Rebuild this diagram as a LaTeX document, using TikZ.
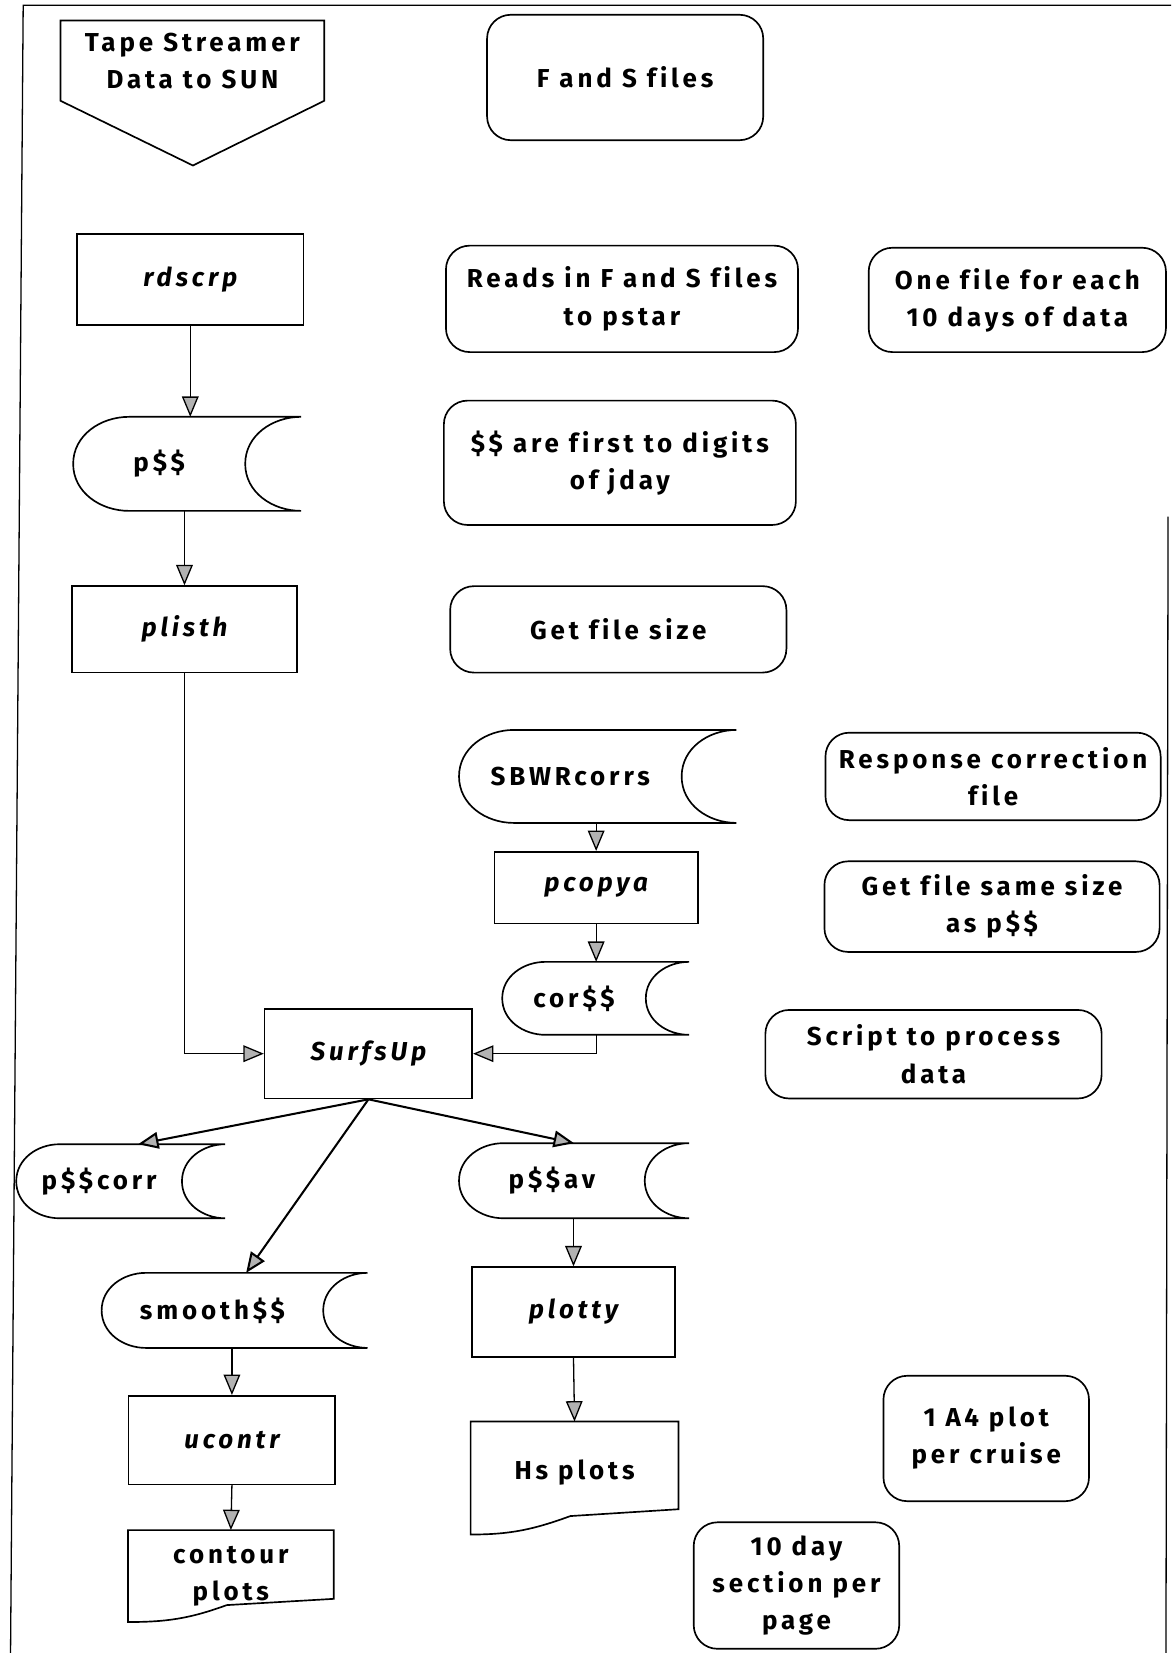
\documentclass[tikz,border=0pt]{standalone}
\usepackage{fontspec}
\setmainfont{Fira Sans}[LetterSpace=15, Ligatures=NoCommon]
\usetikzlibrary{arrows.meta, calc, positioning}

\newcommand{\boxfont}{\fontsize{14}{20}\selectfont\bfseries}
\tikzset{
  proc/.style={draw, line width=0.9pt, font=\boxfont\itshape},
  note/.style={draw, line width=0.9pt, rounded corners=0.45cm, align=center},
  store/.style={align=center, inner sep=0pt},
  doc/.style={align=center},
  tape/.style={align=center},
}
% stored data outline round a node: #2 = depth of the curved ends
\newcommand{\storeline}[2]{%
  \draw[line width=0.9pt] ($(#1.north west)+(#2,0)$) -- ($(#1.north east)+(#2,0)$)
    to[out=180,in=90] (#1.east) to[out=270,in=180] ($(#1.south east)+(#2,0)$)
    -- ($(#1.south west)+(#2,0)$) to[out=180,in=270] (#1.west)
    to[out=90,in=180] ($(#1.north west)+(#2,0)$);}
% printed output outline: #2 = rise of the wavy bottom
\newcommand{\docline}[2]{%
  \draw[line width=0.9pt] (#1.south west)
    to[out=0,in=200] ($(#1.south west)!0.48!(#1.south east)+(0,{0.73*#2})$)
    -- ($(#1.south east)+(0,#2)$) -- (#1.north east) -- (#1.north west) -- cycle;}

\begin{document}
\begin{tikzpicture}[x=0.02cm, y=-0.02cm, font=\boxfont, line width=0.7pt,
  >={Triangle[width=9pt,length=11pt,fill=gray!60]}]
\useasboundingbox (0,0) rectangle (1111,1568);
% frame
\draw (1111,5) -- (22,5) -- (10,1568);
\draw (1108,490) -- (1106,1568);

% input
\node[tape, minimum width=4.98cm, minimum height=1.5cm] (tape) at (182.5,57.5) {Tape Streamer\\Data to SUN};
\coordinate (tapetip) at (183,157);
\draw[line width=0.9pt] (tape.north west) -- (tape.north east) -- (tape.south east) -- (tapetip) -- (tape.south west) -- cycle;

% notes
\node[note, minimum width=5.24cm, minimum height=2.38cm] (fsfiles) at (593,73.5) {F and S files};
\node[note, minimum width=6.68cm, minimum height=2.02cm] (readsin) at (590,283.5) {Reads in F and S files\\to pstar};
\node[note, minimum width=5.64cm, minimum height=1.98cm] (eachfile) at (965,284.5) {One file for each\\10 days of data};
\node[note, minimum width=6.68cm, minimum height=2.36cm] (firstdig) at (588,439) {\$\$ are first to digits\\of jday};
\node[note, minimum width=6.38cm, minimum height=1.64cm] (filesize) at (586.5,597) {Get file size};
\node[note, minimum width=6.36cm, minimum height=1.66cm] (respcorr) at (942,736.5) {Response correction\\file};
\node[note, minimum width=6.36cm, minimum height=1.72cm] (samesize) at (941,860) {Get file same size\\as p\$\$};
\node[note, minimum width=6.38cm, minimum height=1.68cm] (script) at (885.5,1000) {Script to process\\data};
\node[note, minimum width=3.9cm, minimum height=2.38cm] (perplot) at (935.5,1364.5) {1 A4 plot\\per cruise};
\node[note, minimum width=3.9cm, minimum height=2.4cm] (perpage) at (755.5,1504) {10 day\\section per\\page};

% programs
\node[proc, minimum width=4.3cm, minimum height=1.72cm] (rdscrp) at (180.5,265) {rdscrp};
\node[proc, minimum width=4.28cm, minimum height=1.64cm] (plisth) at (175,597) {plisth};
\node[proc, minimum width=3.86cm, minimum height=1.36cm] (pcopya) at (565.5,842) {pcopya};
\node[proc, minimum width=3.94cm, minimum height=1.7cm] (surfsup) at (349.5,999.5) {SurfsUp};
\node[proc, minimum width=3.84cm, minimum height=1.7cm] (plotty) at (544,1244.5) {plotty};
\node[proc, minimum width=3.92cm, minimum height=1.68cm] (ucontr) at (220,1366) {ucontr};

% data files
\node[store, minimum width=3.24cm, minimum height=1.76cm] (pstore) at (151,440) {p\$\$};
\node[store, minimum width=4.2cm, minimum height=1.74cm] (sbwr) at (541,736.5) {SBWRcorrs};
\node[store, minimum width=2.7cm, minimum height=1.36cm] (corstore) at (544.5,947) {cor\$\$};
\node[store, minimum width=3.12cm, minimum height=1.38cm] (pcorr) at (94,1120.5) {p\$\$corr};
\node[store, minimum width=3.5cm, minimum height=1.4cm] (pav) at (523.5,1120) {p\$\$av};
\node[store, minimum width=4.18cm, minimum height=1.4cm] (smooth) at (201.5,1243) {smooth\$\$};
\storeline{pstore}{1.06cm}
\storeline{sbwr}{1.04cm}
\storeline{corstore}{0.82cm}
\storeline{pcorr}{0.82cm}
\storeline{pav}{0.84cm}
\storeline{smooth}{0.84cm}

% plots
\node[doc, minimum width=3.92cm, minimum height=2.12cm] (hsplots) at (545,1402) {\raisebox{0.32cm}{Hs plots}};
\node[doc, minimum width=3.88cm, minimum height=1.72cm] (contour) at (219,1495) {contour\\plots};
\docline{hsplots}{0.48cm}
\docline{contour}{0.44cm}

% flow
\path[->] (rdscrp.south) edge (rdscrp.south |- pstore.north)
  (plisth.north |- pstore.south) edge (plisth.north)
  (pcopya.north |- sbwr.south) edge (pcopya.north)
  (pcopya.south) edge (pcopya.south |- corstore.north)
  (plotty.north |- pav.south) edge (plotty.north)
  (plotty.south) edge (hsplots.north)
  (ucontr.north |- smooth.south) edge (ucontr.north)
  (ucontr.south) edge (contour.north);
\draw[->] (plisth.south) |- (surfsup.west);
\draw[->] (pcopya.south |- corstore.south) |- (surfsup.east);
\path[->, line width=1.1pt] (surfsup.south) edge ($(pcorr.north)+(37,0)$)
  (surfsup.south) edge ($(smooth.north)+(32,0)$)
  (surfsup.south) edge ($(pav.north)+(21,0)$);
\end{tikzpicture}
\end{document}
